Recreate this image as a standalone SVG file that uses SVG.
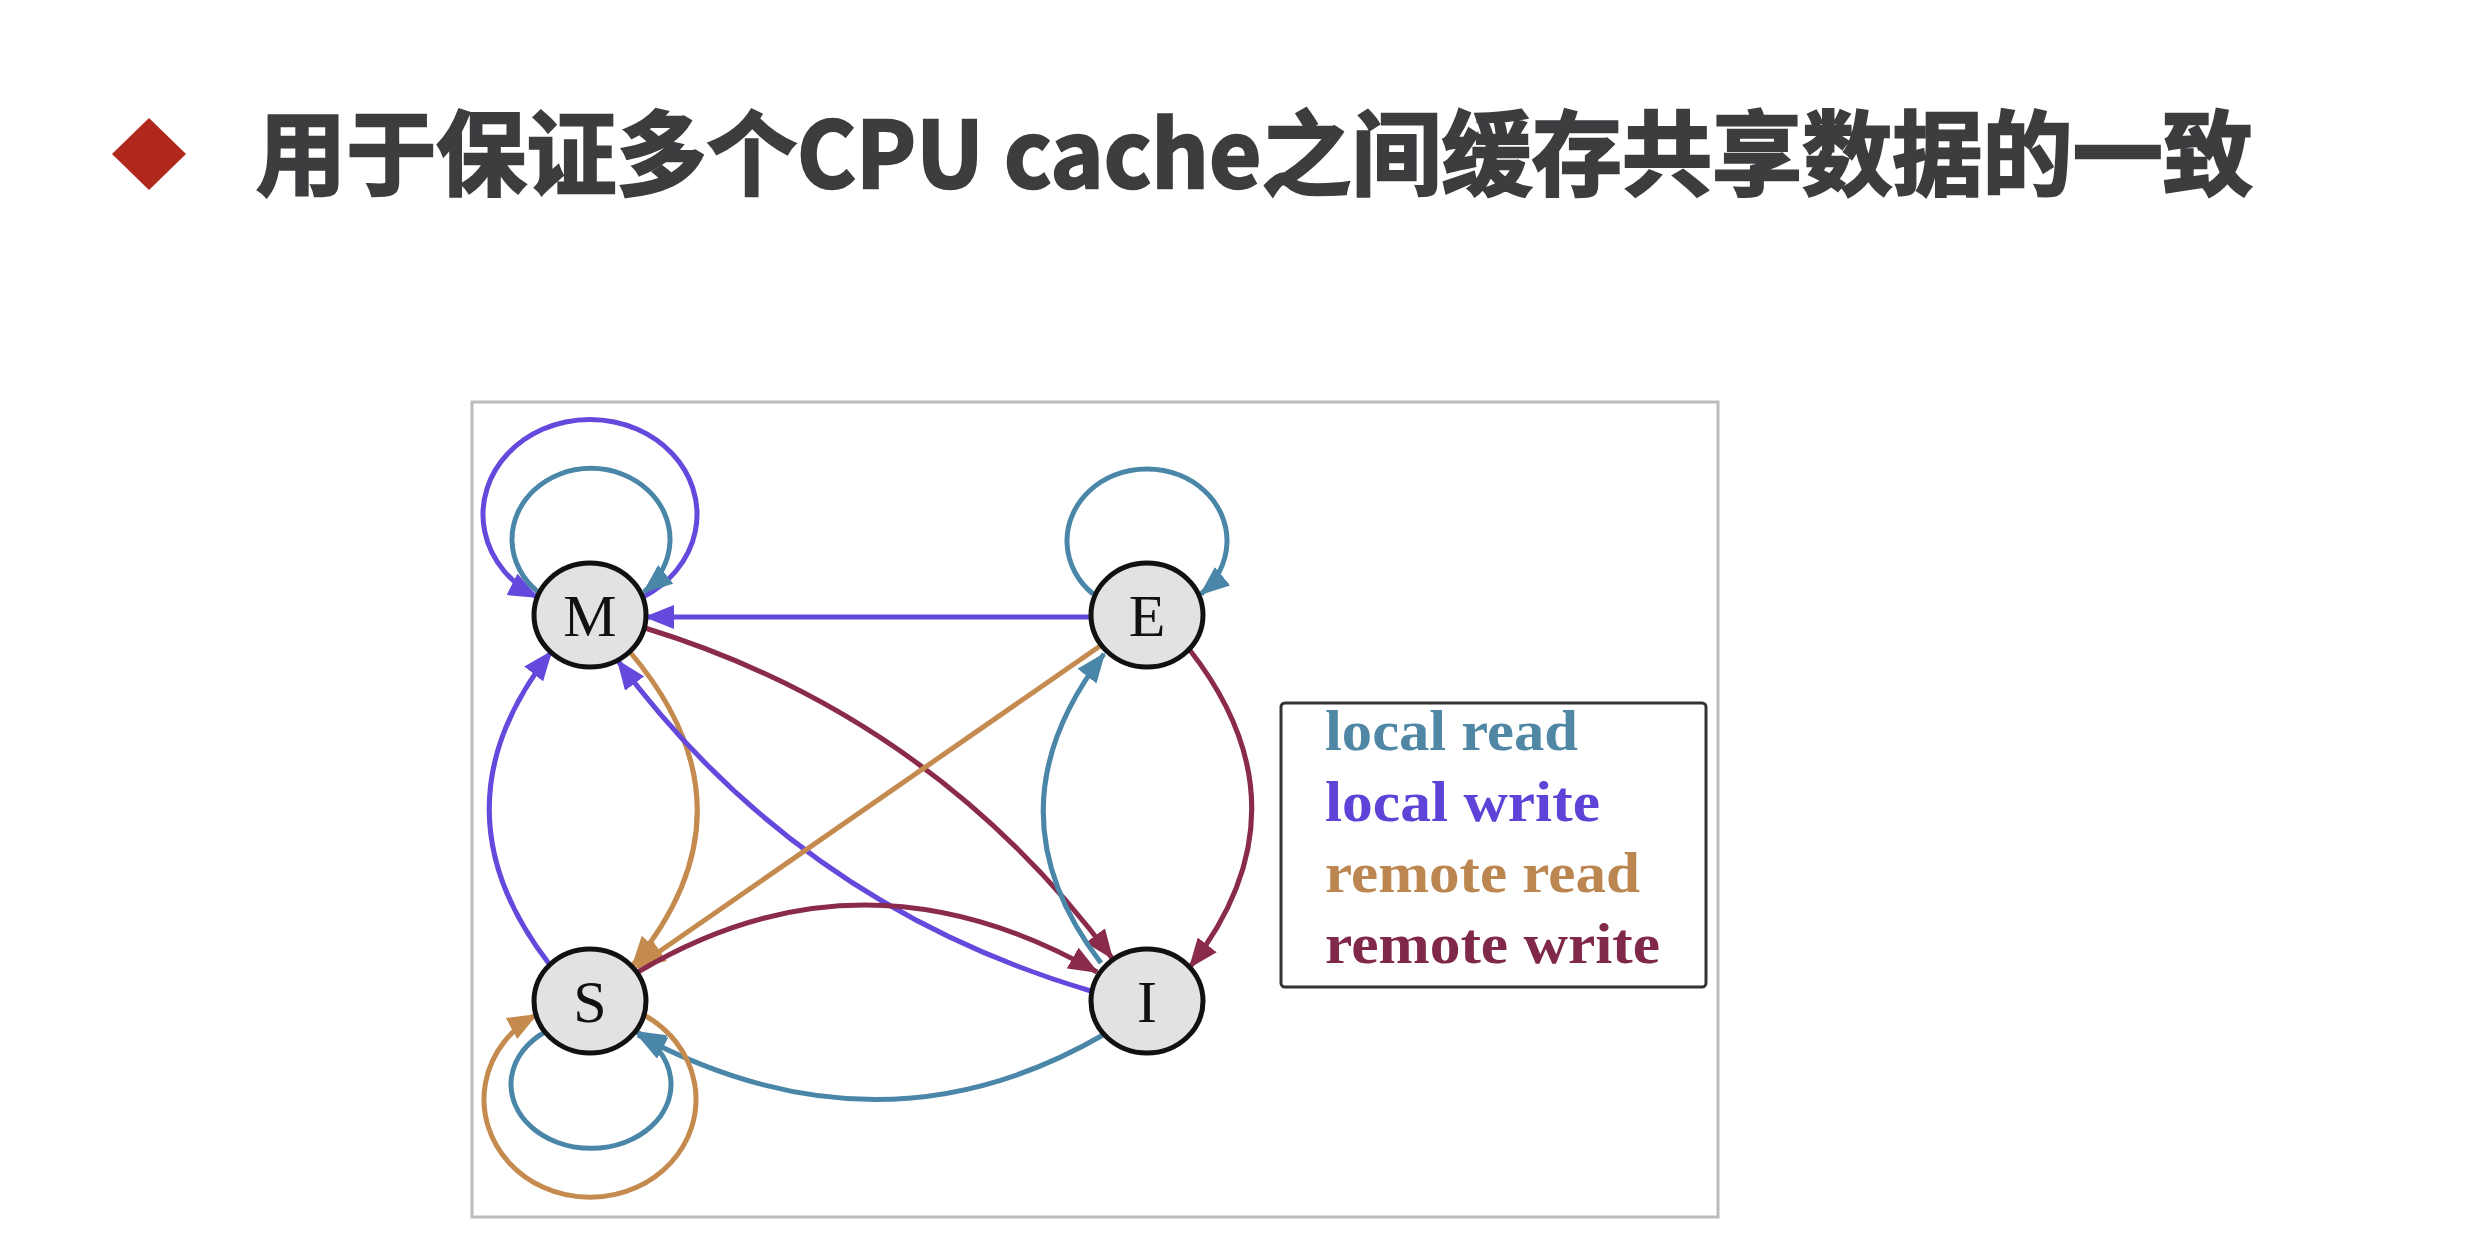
<svg xmlns="http://www.w3.org/2000/svg" width="2480" height="1256" viewBox="0 0 2480 1256">
<defs>
<style>
.title{font-family:'Noto Sans CJK SC','Noto Sans',sans-serif;font-weight:bold;font-size:92px;fill:#3d3d40;stroke:#3d3d40;stroke-width:2.5px}
.node ellipse{fill:#e2e2e4;stroke:#111;stroke-width:5}
.node text{font-family:'Liberation Serif','Times New Roman',serif;font-size:60px;fill:#111;text-anchor:middle}
.e{fill:none;stroke-width:5}
.lr{stroke:#4a86a8}.lw{stroke:#6548dc}.rr{stroke:#c48a4e}.rw{stroke:#8b2b4c}
.leg{font-family:'Liberation Serif','Times New Roman',serif;font-weight:bold;font-size:57px}
</style>
<marker id="aLR" markerUnits="userSpaceOnUse" markerWidth="30" markerHeight="24" viewBox="0 0 30 24" refX="28" refY="12" orient="auto"><path d="M0,0 L30,12 L0,24 z" fill="#4a86a8"/></marker>
<marker id="aLW" markerUnits="userSpaceOnUse" markerWidth="30" markerHeight="24" viewBox="0 0 30 24" refX="28" refY="12" orient="auto"><path d="M0,0 L30,12 L0,24 z" fill="#6548dc"/></marker>
<marker id="aRR" markerUnits="userSpaceOnUse" markerWidth="30" markerHeight="24" viewBox="0 0 30 24" refX="28" refY="12" orient="auto"><path d="M0,0 L30,12 L0,24 z" fill="#c48a4e"/></marker>
<marker id="aRW" markerUnits="userSpaceOnUse" markerWidth="30" markerHeight="24" viewBox="0 0 30 24" refX="28" refY="12" orient="auto"><path d="M0,0 L30,12 L0,24 z" fill="#8b2b4c"/></marker>
</defs>
<rect width="2480" height="1256" fill="#ffffff"/>
<g id="title">
<polygon points="149,118 186,154 149,190 112,154" fill="#b0281c"/>
<text class="title" x="256" y="188" textLength="1997" lengthAdjust="spacingAndGlyphs">用于保证多个CPU cache之间缓存共享数据的一致</text>
</g>
<g id="frame">
<rect x="472" y="402" width="1246" height="815" fill="#ffffff" stroke="#bcbcbc" stroke-width="3"/>
</g>
<g id="connectors">
<path class="e lw" d="M 643 597 A 107 95 0 1 0 537 597" marker-end="url(#aLW)"/>
<path class="e lr" d="M 538 592 A 79 71 0 1 1 644 592" marker-end="url(#aLR)"/>
<path class="e lr" d="M 1093 594 A 80 72 0 1 1 1201 594" marker-end="url(#aLR)"/>
<path class="e lw" d="M 1091 617 L 646 617" marker-end="url(#aLW)"/>
<path class="e rw" d="M 645 628 Q 932 716 1112 958" marker-end="url(#aRW)"/>
<path class="e rr" d="M 630 652 Q 763 809 633 965" marker-end="url(#aRR)"/>
<path class="e lw" d="M 550 965 Q 428 808 551 652" marker-end="url(#aLW)"/>
<path class="e lw" d="M 1091 991 Q 799 905 618 661" marker-end="url(#aLW)"/>
<path class="e rr" d="M 1100 646 L 637 967" marker-end="url(#aRR)"/>
<path class="e lr" d="M 1101 963 Q 984 810 1104 654" marker-end="url(#aLR)"/>
<path class="e rw" d="M 1189 649 Q 1314 808 1190 967" marker-end="url(#aRW)"/>
<path class="e rw" d="M 638 972 Q 862 838 1097 972" marker-end="url(#aRW)"/>
<path class="e lr" d="M 1103 1035 Q 880 1164 638 1035" marker-end="url(#aLR)"/>
<path class="e lr" d="M 545 1032 A 80 64 0 1 0 637 1032" marker-end="url(#aLR)"/>
<path class="e rr" d="M 644 1015 A 106 98 0 1 1 536 1015" marker-end="url(#aRR)"/>
</g>
<g id="node-M" class="node"><ellipse cx="590" cy="615" rx="56" ry="52"/><text x="590" y="636">M</text></g>
<g id="node-E" class="node"><ellipse cx="1147" cy="615" rx="56" ry="52"/><text x="1147" y="636">E</text></g>
<g id="node-S" class="node"><ellipse cx="590" cy="1001" rx="56" ry="52"/><text x="590" y="1022">S</text></g>
<g id="node-I" class="node"><ellipse cx="1147" cy="1001" rx="56" ry="52"/><text x="1147" y="1022">I</text></g>
<g id="legend">
<rect x="1281" y="703" width="425" height="284" rx="4" fill="#ffffff" stroke="#333" stroke-width="3"/>
<text class="leg" x="1325" y="750" fill="#4f87a4" textLength="253" lengthAdjust="spacingAndGlyphs">local read</text>
<text class="leg" x="1325" y="821" fill="#5f43d8" textLength="275" lengthAdjust="spacingAndGlyphs">local write</text>
<text class="leg" x="1325" y="892" fill="#bc8650" textLength="315" lengthAdjust="spacingAndGlyphs">remote read</text>
<text class="leg" x="1325" y="963" fill="#80284a" textLength="335" lengthAdjust="spacingAndGlyphs">remote write</text>
</g>
</svg>
